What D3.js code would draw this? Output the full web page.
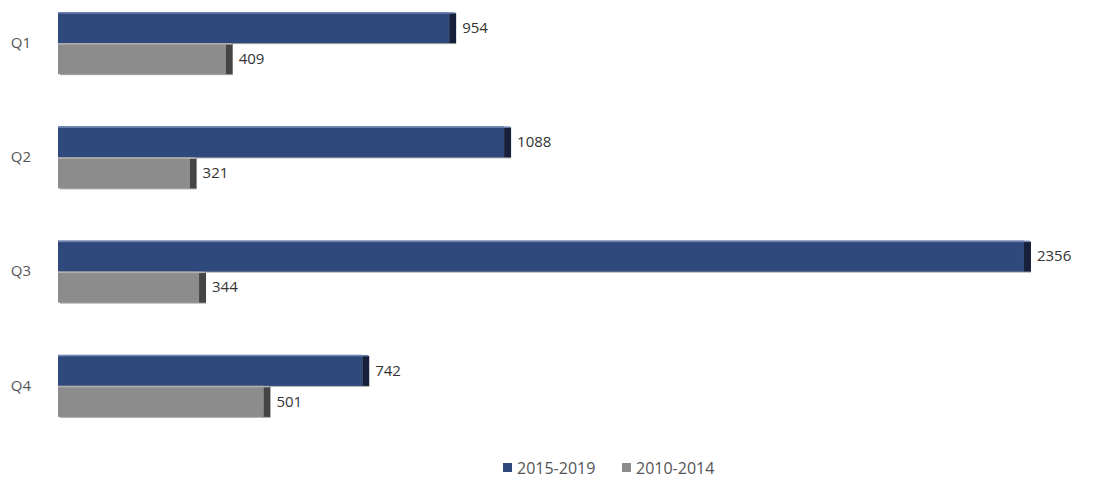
<!DOCTYPE html>
<html>
<head>
<meta charset="utf-8">
<script src="https://cdn.jsdelivr.net/npm/d3@7"></script>
<style>
  body { margin: 0; background: #fff; }
  text { font-family: "Open Sans", sans-serif; }
</style>
</head>
<body>
<div id="chart"></div>
<script>
// Data
const quarters = ["Q1", "Q2", "Q3", "Q4"];
const seriesNames = ["2015-2019", "2010-2014"];
const recent = [954, 1088, 2356, 742];
const older = [409, 321, 344, 501];

(function () {
  const [w, h] = [1119, 480];
  const left = 58;
  const depth = 7;

  const colors = ["#2f497c", "#8c8c8c"];
  const sideColors = ["#17203a", "#454545"];

  const rows = [];
  quarters.forEach((q, i) => {
    rows.push({ q: q, s: seriesNames[0], v: recent[i], k: 0 });
    rows.push({ q: q, s: seriesNames[1], v: older[i], k: 1 });
  });

  const xScale = d3.scaleLinear()
    .domain([0, 2500])
    .range([left, left + 1025]);

  // centre of each quarter group
  const yScale = d3.scaleBand()
    .domain(quarters)
    .range([-14, 443]);

  const inner = d3.scaleBand()
    .domain(seriesNames)
    .range([-31, 31]);

  const yOf = (d) => yScale(d.q) + yScale.bandwidth() / 2 + inner(d.s);

  const svg = d3.select("#chart")
    .append("svg")
    .attr("width", w)
    .attr("height", h);

  const bars = svg.selectAll("g.bar")
    .data(rows)
    .enter()
    .append("g")
    .attr("class", "bar");

  // soft shadow under the bars
  bars.append("rect")
    .attr("x", left + 2)
    .attr("y", (d) => yOf(d) + inner.bandwidth() - 1)
    .attr("width", (d) => xScale(d.v) - left + depth - 2)
    .attr("height", 2)
    .attr("fill", "rgba(0,0,0,0.35)");

  bars.append("rect")
    .attr("x", left)
    .attr("y", yOf)
    .attr("width", (d) => xScale(d.v) - left)
    .attr("height", inner.bandwidth())
    .attr("fill", (d) => colors[d.k]);

  // dark side face
  bars.append("rect")
    .attr("x", (d) => xScale(d.v))
    .attr("y", (d) => yOf(d) + 1)
    .attr("width", depth)
    .attr("height", inner.bandwidth() - 1)
    .attr("fill", (d) => sideColors[d.k]);

  // light top edge
  bars.append("rect")
    .attr("x", left)
    .attr("y", yOf)
    .attr("width", (d) => xScale(d.v) - left + depth - 1)
    .attr("height", 1.5)
    .attr("fill", (d) => d.k === 0 ? "#6f86b3" : "#b0b0b0");

  // value labels
  bars.append("text")
    .attr("x", (d) => xScale(d.v) + depth + 6)
    .attr("y", (d) => yOf(d) + inner.bandwidth() / 2)
    .attr("dy", "0.35em")
    .attr("font-size", 15)
    .attr("fill", "#333")
    .text((d) => d.v);

  // category axis
  const yAxis = d3.axisLeft(yScale).tickSize(0).tickPadding(0);
  const ax = svg.append("g")
    .attr("transform", "translate(31, 0)")
    .call(yAxis);
  ax.select(".domain").remove();
  ax.selectAll("text")
    .attr("font-size", 15)
    .attr("font-family", "Open Sans, sans-serif")
    .attr("fill", "#555");

  // legend
  const legend = svg.append("g")
    .attr("transform", "translate(503, 468)");
  const legendX = [0, 119];
  seriesNames.forEach((s, i) => {
    legend.append("rect")
      .attr("x", legendX[i])
      .attr("y", -5)
      .attr("width", 9)
      .attr("height", 9)
      .attr("fill", colors[i]);
    legend.append("text")
      .attr("x", legendX[i] + 14)
      .attr("y", 0)
      .attr("dy", "0.35em")
      .attr("font-size", 16)
      .attr("fill", "#555")
      .text(s);
  });
})();
</script>
</body>
</html>
